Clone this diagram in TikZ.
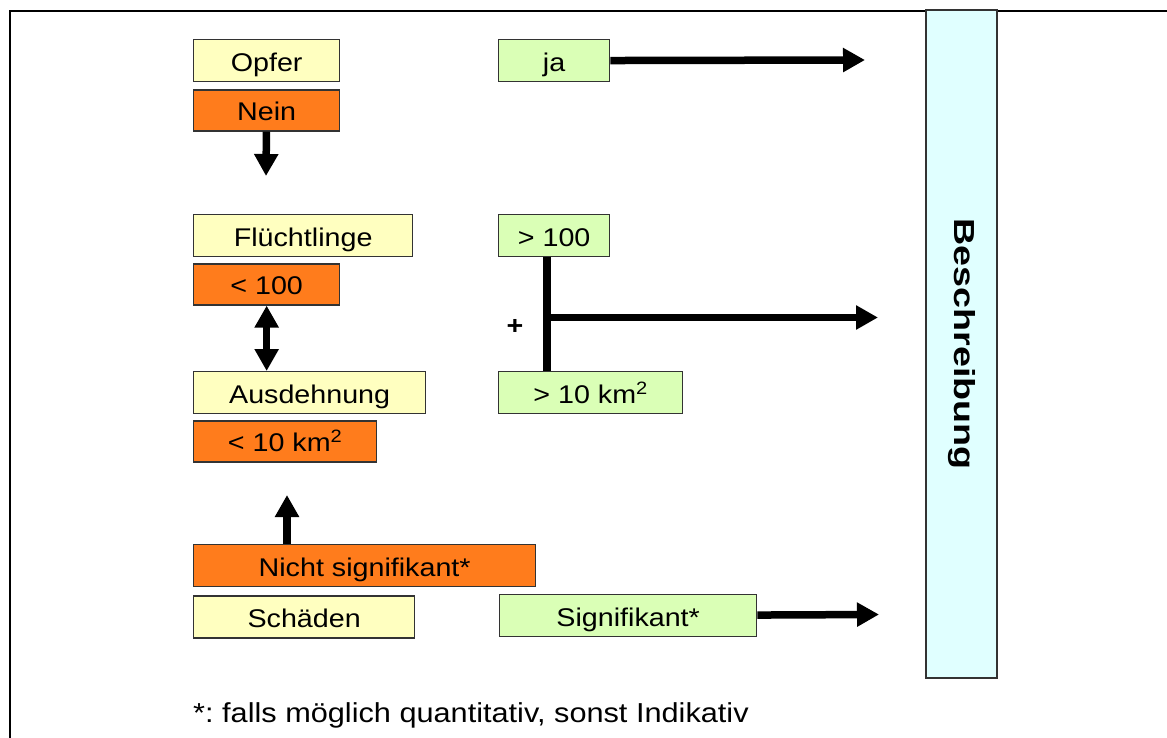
\documentclass[tikz,border=0pt]{standalone}
\usepackage{fontspec}
\setmainfont{Liberation Sans}[FakeStretch=1.12]
\usetikzlibrary{arrows.meta,positioning,calc}
\definecolor{KritYellow}{HTML}{FFFFC0}
\definecolor{KritOrange}{HTML}{FF7C1C}
\definecolor{KritGreen}{HTML}{DAFFB6}
\definecolor{KritCyan}{HTML}{E0FFFF}
\newcommand{\boxfont}{\fontsize{25.6}{30}\selectfont}
\tikzset{
  criterion/.style={draw=black!80, line width=1.3pt, fill=KritYellow,
    inner sep=0pt, minimum height=42pt, text height=21pt, text depth=0pt, font=\boxfont},
  lowvalue/.style={criterion, fill=KritOrange, minimum height=41pt},
  highvalue/.style={criterion, fill=KritGreen},
  outcome/.style={draw=black!80, line width=1.3pt, fill=KritCyan, inner sep=0pt},
  bigarrow/.style={-{Triangle[length=22pt,width=23pt]}, line width=7.5pt},
  bothways/.style={{Triangle[length=22pt,width=23pt]}-{Triangle[length=22pt,width=23pt]}, line width=7.5pt},
  joinline/.style={line width=8pt}
}

\begin{document}
\begin{tikzpicture}[x=1pt, y=-1pt]
  \useasboundingbox (0,0) rectangle (1167,738);
  \draw[line width=2pt] (10,738) -- (10,11) -- (1167,11);

  % Opfer
  \node[criterion, anchor=north west, minimum width=146pt] (opfer) at (193,39) {Opfer};
  \node[lowvalue, below right=7pt and 0pt of opfer.south west, minimum width=146pt] (nein) {Nein};
  \node[highvalue, anchor=north west, minimum width=111pt] (ja) at (498,39) {ja};

  % Fluechtlinge
  \node[criterion, anchor=north west, minimum width=219pt] (fluechtlinge) at (193,214) {Flüchtlinge};
  \node[lowvalue, below right=6pt and 0pt of fluechtlinge.south west, minimum width=146pt] (kleinhundert) {< 100};
  \node[highvalue, anchor=north west, minimum width=111pt] (groszhundert) at (498,214) {> 100};

  % Ausdehnung
  \node[criterion, anchor=north west, minimum width=232pt] (ausdehnung) at (193,371) {Ausdehnung};
  \node[lowvalue, below right=6pt and 0pt of ausdehnung.south west, minimum width=183pt] (kleinflaeche) {< 10 km\textsuperscript{2}};
  \node[highvalue, anchor=north west, minimum width=184pt] (groszflaeche) at (498,371) {> 10 km\textsuperscript{2}};

  % Schaeden
  \node[lowvalue, anchor=north west, minimum width=342pt, minimum height=42pt] (nichtsig) at (193,544) {Nicht signifikant*};
  \node[criterion, below right=8pt and 0pt of nichtsig.south west, minimum width=221pt] (schaeden) {Schäden};
  \node[highvalue, anchor=north west, minimum width=257pt] (sig) at (499,594) {Signifikant*};

  \node[outcome, rotate=-90, minimum width=668pt, minimum height=71pt] (beschreibung) at (961.5,344)
    {\fontsize{29}{34}\selectfont\bfseries\scalebox{1.16}[1]{Beschreibung}};

  \node[font=\boxfont\bfseries] (plus) at (515,327) {+};
  \node[font=\fontsize{27.4}{32}\selectfont, anchor=base west, inner sep=0pt] (fussnote) at (193,722) {*:\ falls möglich quantitativ, sonst Indikativ};

  \coordinate (neinend) at (266,176);
  \coordinate (upend) at (287,495);
  \coordinate (junction) at (547,317.5);
  \coordinate (jaend) at (865,60);
  \coordinate (kombiend) at (878,317.5);
  \coordinate (sigend) at (879,614.5);

  \draw[bigarrow] (nein) -- (neinend);
  \draw[bigarrow] (ja) -- (jaend);
  \draw[bothways] (kleinhundert.south) -- (kleinhundert.south |- ausdehnung.north);
  \draw[joinline] (groszhundert.south -| junction) -- (groszflaeche.north -| junction);
  \draw[bigarrow] (junction) -- (kombiend);
  \draw[bigarrow] (nichtsig.north -| upend) -- (upend);
  \draw[bigarrow] (sig) -- (sigend);
\end{tikzpicture}
\end{document}
